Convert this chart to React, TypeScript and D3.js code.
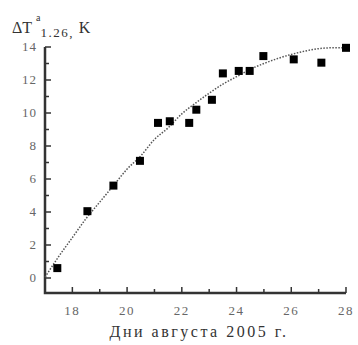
import React from 'react';
import * as d3 from 'd3';

// measured points (day of August, ΔT in K)
const dayValues = [17.45, 18.55, 19.5, 20.47, 21.13, 21.56, 22.27, 22.53, 23.1, 23.5, 24.08, 24.48, 24.98, 26.09, 27.1, 28.0];
const tempValues = [0.6, 4.05, 5.6, 7.1, 9.4, 9.5, 9.4, 10.2, 10.8, 12.4, 12.55, 12.55, 13.45, 13.25, 13.05, 13.95];

// dotted trend curve
const curveX = [17, 17.5, 18, 18.5, 19, 19.5, 20, 20.5, 21, 21.5, 22, 22.5, 23, 23.5, 24, 24.5, 25, 25.5, 26, 26.5, 27, 27.5, 28];
const curveY = [0.05, 1.3, 2.45, 3.6, 4.6, 5.6, 6.6, 7.4, 8.4, 9.1, 9.95, 10.6, 11.2, 11.75, 12.2, 12.65, 13.0, 13.3, 13.55, 13.75, 13.9, 13.95, 13.95];

const xTickLabels = [18, 20, 22, 24, 26, 28];
const yTickLabels = [0, 2, 4, 6, 8, 10, 12, 14];

const font = "'Liberation Serif', 'DejaVu Serif', serif";

const App = () => {
  const xScale = d3.scaleLinear().domain([17, 28]).range([45, 346]);
  const yScale = d3.scaleLinear().domain([0, 14]).range([278, 47]);
  const axisBottomY = 293;

  const line = d3.line<[number, number]>()
    .x(d => xScale(d[0]))
    .y(d => yScale(d[1]))
    .curve(d3.curveMonotoneX);
  const curvePath = line(curveX.map((x, i) => [x, curveY[i]] as [number, number])) || '';

  const axisLine = d3.line<[number, number]>()([[45, yScale(14)], [45, axisBottomY], [xScale(28), axisBottomY]]) || '';

  const size = 8;

  return (
    <svg width={358} height={345} style={{ position: 'absolute', left: 0, top: 0, background: '#fff' }}>
      <path d={axisLine} fill="none" stroke="#333" strokeWidth={2.5} />

      {d3.range(0, 15).map(v => (
        <path key={'yt' + v} d={`M45,${yScale(v)}H${v % 2 === 0 ? 51 : 49}`} stroke="#333" strokeWidth={1.5} />
      ))}
      {d3.range(18, 29).map(v => (
        <path key={'xt' + v} d={`M${xScale(v)},${axisBottomY}V${axisBottomY - (v % 2 === 0 ? 6 : 4)}`} stroke="#333" strokeWidth={1.5} />
      ))}

      {yTickLabels.map(d => (
        <text key={'yl' + d} x={37} y={yScale(d) + 4} textAnchor="end" style={{ fontFamily: font }}
          fontSize={13} letterSpacing={1} fill="#666">{d}</text>
      ))}
      {xTickLabels.map(d => (
        <text key={'xl' + d} x={xScale(d)} y={315} textAnchor="middle" style={{ fontFamily: font }}
          fontSize={13} letterSpacing={1.5} fill="#666">{d}</text>
      ))}

      <text x={199} y={337} textAnchor="middle" style={{ fontFamily: font }} fontSize={16}
        letterSpacing={2.5} fill="#333">Дни августа 2005 г.</text>

      <text x={12} y={33} style={{ fontFamily: font }} fontSize={16} fill="#333">
        <tspan>ΔT</tspan>
        <tspan fontSize={10} dx={4} dy={-12}>a</tspan>
        <tspan fontSize={13} dy={16} letterSpacing={1.5}>1.26, </tspan>
        <tspan dy={-4}>K</tspan>
      </text>

      <path d={curvePath} fill="none" stroke="#555" strokeWidth={1.5} strokeDasharray="1.5 1.5" />

      {dayValues.map((d, i) => (
        <rect key={'p' + i} x={xScale(d) - size / 2} y={yScale(tempValues[i]) - size / 2}
          width={size} height={size} fill="#000" />
      ))}
    </svg>
  );
};

export default App;
